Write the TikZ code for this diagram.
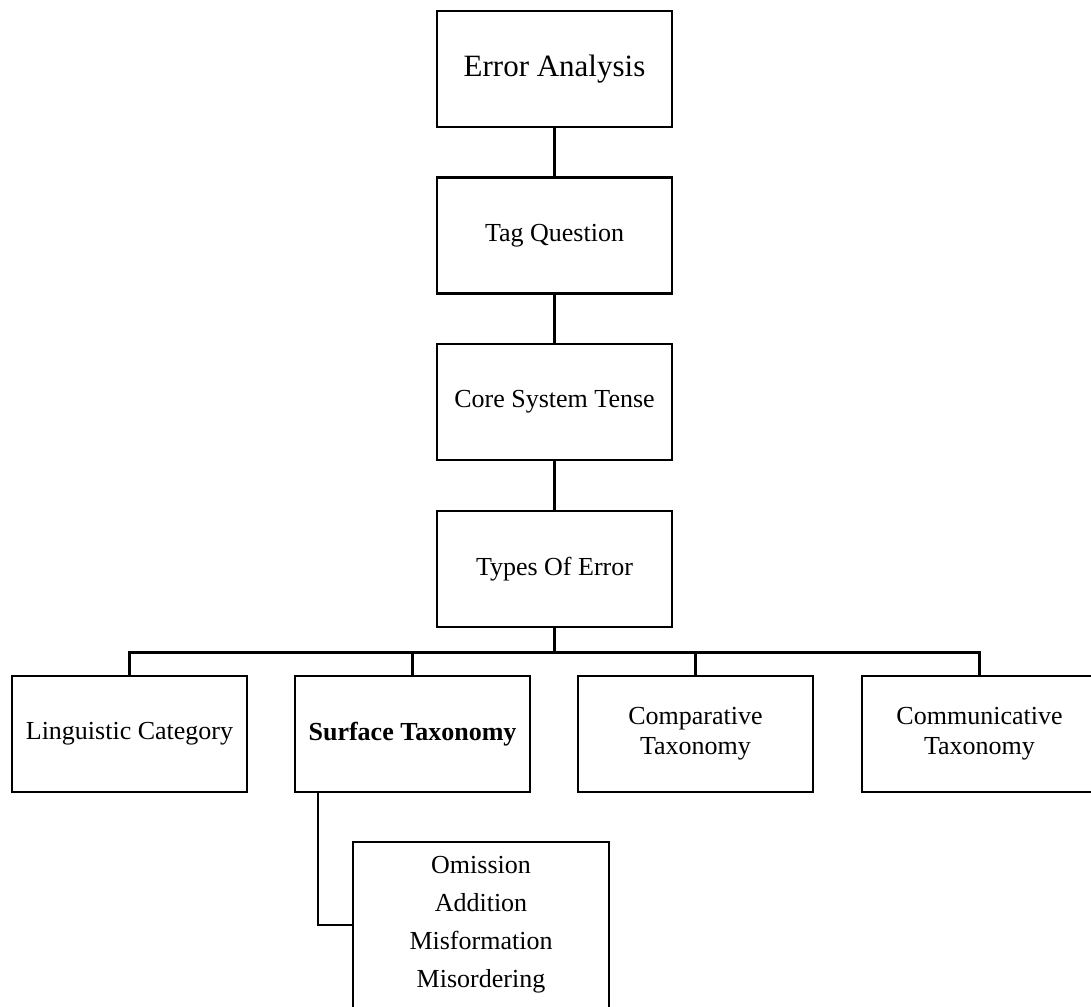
\documentclass[tikz,border=0pt]{standalone}
\usepackage{fontspec}
\setmainfont{Liberation Serif}

\begin{document}
\begin{tikzpicture}[x=1pt, y=-1pt,
    box/.style={draw, line width=2.6pt, minimum width=235pt, minimum height=116pt, inner sep=0pt, align=center, font=\fontsize{26}{30}\selectfont},
    link/.style={line width=2.6pt}
]
\useasboundingbox (0,0) rectangle (1091,1006);

% Main chain
\node[box, font=\fontsize{31}{36}\selectfont] (analysis) at (554.5,69) {Error Analysis};
\node[box] (tag) at (554.5,235.5) {Tag Question};
\node[box] (tense) at (554.5,402) {Core System Tense};
\node[box] (types) at (554.5,569) {Types Of Error};

% Types of error
\node[box] (linguistic) at (129.5,734) {Linguistic Category};
\node[box, font=\fontsize{26}{30}\selectfont\bfseries] (surface) at (412.5,734) {Surface Taxonomy};
\node[box] (comparative) at (695.5,734) {Comparative\\Taxonomy};
\node[box] (communicative) at (979.5,734) {Communicative\\Taxonomy};

% Surface taxonomy items
\node[box, minimum width=256pt, minimum height=166pt, font=\fontsize{26}{38}\selectfont] (items) at (481,925) {Omission\\Addition\\Misformation\\Misordering};

% Lines
\draw[link] (analysis) -- (tag);
\draw[link] (tag) -- (tense);
\draw[link] (tense) -- (types);
\draw[link] (types.south) -- ++(0,24) coordinate (bar);
\draw[link] (linguistic.north) |- (bar) -| (communicative.north);
\foreach \n in {surface,comparative}
    \draw[link] (\n.north) -- (\n.north |- bar);
\draw[link] ([xshift=-94.5pt]surface.south) |- (items.west);
\end{tikzpicture}
\end{document}
